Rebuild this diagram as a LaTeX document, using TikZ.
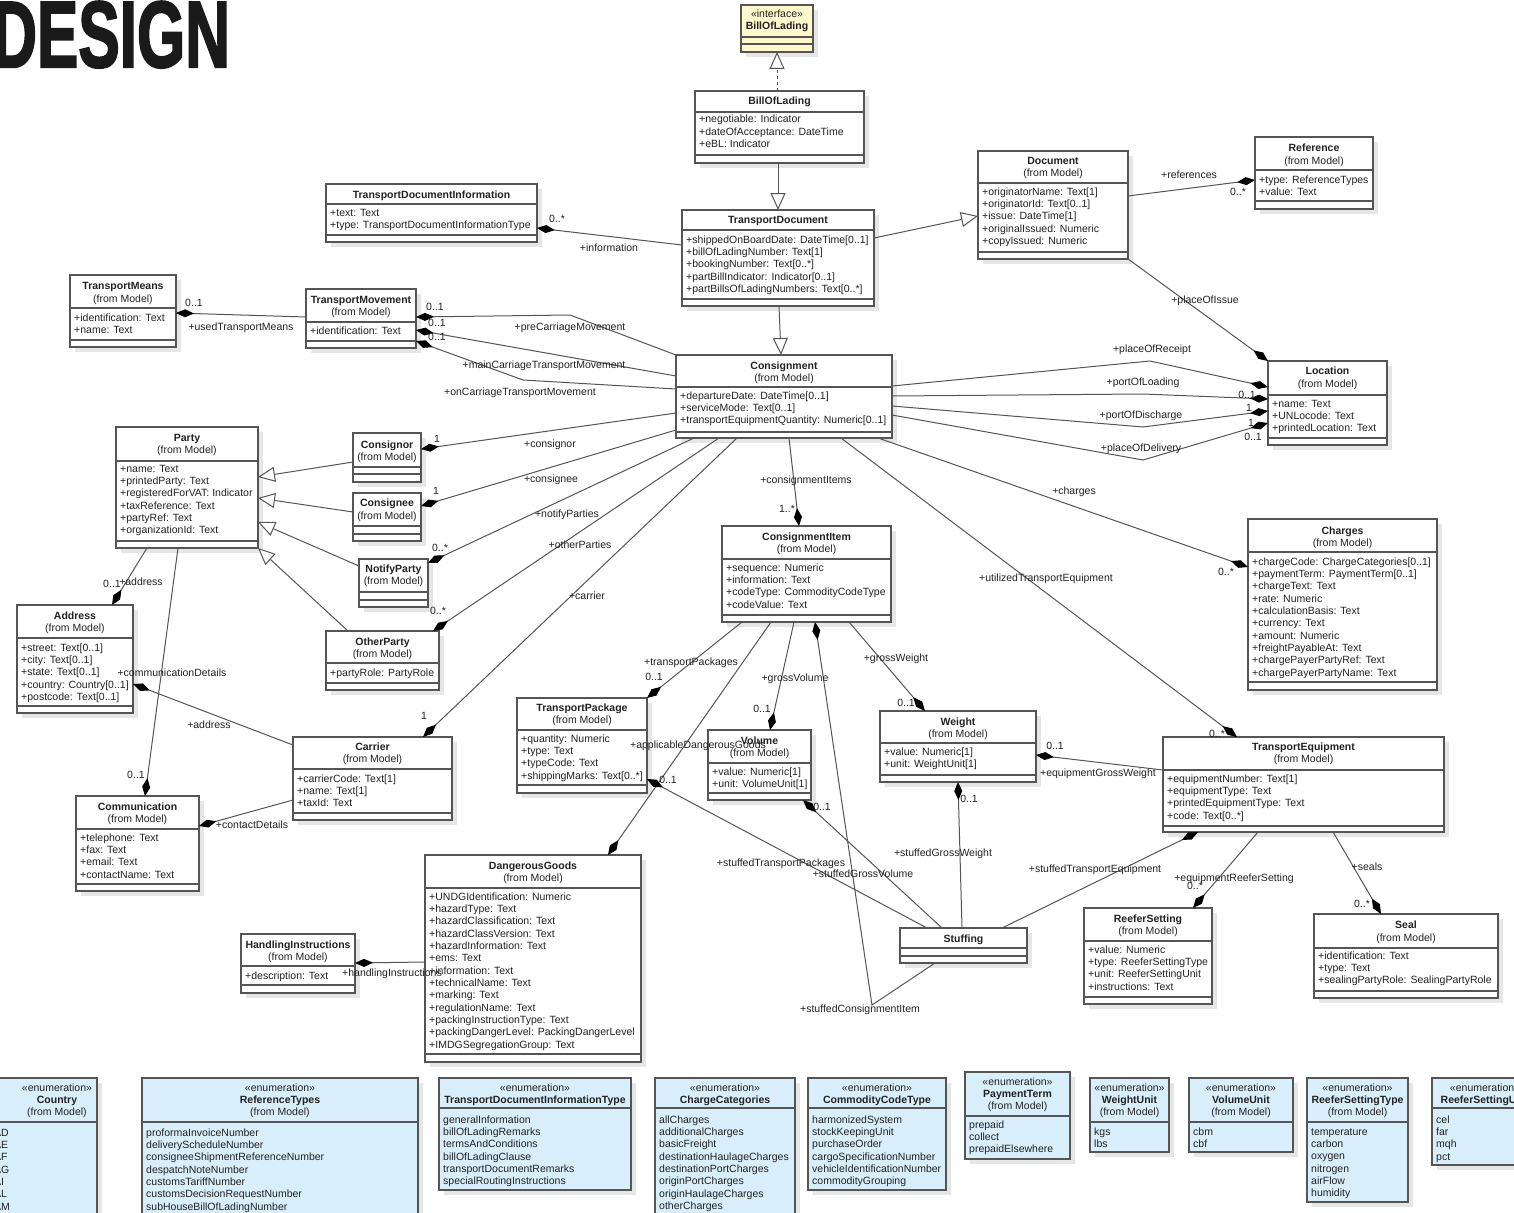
\documentclass[tikz,border=0pt]{standalone}
\usepackage{fontspec}
\setmainfont{Liberation Sans}
\newfontfamily\designfont[FakeBold=2.5]{Liberation Sans Bold}
\usetikzlibrary{arrows.meta,fit}
\definecolor{lc}{HTML}{555555}
\definecolor{tc}{HTML}{222222}
\definecolor{ifill}{HTML}{FFF8CC}
\definecolor{efill}{HTML}{D8EEFA}
\definecolor{shc}{HTML}{E6E6E6}
\definecolor{designc}{HTML}{1A1A1A}
\newcounter{nn}
\tikzset{
 classbox/.style={draw=lc, line width=1.2pt, fill=white, inner sep=0pt, outer sep=0pt},
 sepline/.style={draw=lc, line width=1.1pt},
 txt/.style={inner sep=0pt, text=tc, font=\fontsize{10.5}{12}\selectfont},
 attr/.style={txt, anchor=base west},
 ttl/.style={txt, anchor=base, font=\fontsize{10.5}{12}\selectfont\bfseries},
 sub/.style={txt, anchor=base},
 lab/.style={txt, anchor=base},
 assoc/.style={draw=lc, line width=1pt},
 comp/.style={assoc, -{Diamond[length=18pt,width=8pt,color=black]}},
 gen/.style={assoc, -{Triangle[open,length=17pt,width=15pt,fill=white]}},
 realz/.style={gen, dashed}
}
\newcommand\ubox[6]{%
  \fill[shc] (#2+5,#3+5) rectangle (#4+5,#5+5);
  \node[classbox,#6,fit={(#2,#3) (#4,#5)}] (#1) {};}
\newcommand\hsep[2]{\draw[sepline] (#1.west |- 0,#2) -- (#1.east |- 0,#2);}
\newcommand\ct[4]{\stepcounter{nn}\node[#1] (t\arabic{nn}) at (#2.center |- 0,#3+4) {#4};}
\newcommand\al[3]{\foreach \itm [count=\i from 0] in {#3} {\stepcounter{nn}\node[attr,xshift=4pt] (t\arabic{nn}) at (#1.west |- 0,#2+4+\i*12.35) {\itm};}}
\newcommand\lb[3]{\stepcounter{nn}\node[lab] (t\arabic{nn}) at (#1,#2+4) {#3};}
\newcommand\enumhead[3]{\ct{sub}{#1}{#2}{«enumeration»}\ct{ttl}{#1}{#2+12}{#3}}
\begin{document}
\begin{tikzpicture}[x=1pt,y=-1pt]
\useasboundingbox (0,0) rectangle (1514,1212);
\fill[white] (0,0) rectangle (1514,1212);
\clip (0,0) rectangle (1514,1212);

\node[anchor=base west, inner sep=0pt, text=designc, font=\fontsize{94}{94}\selectfont\designfont] (title) at (-8,67) {\scalebox{0.66}[1]{DESIGN}};

% ---------- classes ----------
\ubox{ifc}{741}{5}{813}{52}{fill=ifill}
\ct{sub}{ifc}{14}{«interface»}
\ct{ttl}{ifc}{26}{BillOfLading}
\hsep{ifc}{37}\hsep{ifc}{44}

\ubox{bol}{695}{91}{864}{163}{}
\ct{ttl}{bol}{101}{BillOfLading}
\hsep{bol}{112}
\al{bol}{119}{+negotiable: Indicator, +dateOfAcceptance: DateTime, +eBL: Indicator}
\hsep{bol}{155}

\ubox{td}{682}{210}{874}{306}{}
\ct{ttl}{td}{219}{TransportDocument}
\hsep{td}{230}
\al{td}{239}{+shippedOnBoardDate: DateTime[0..1], +billOfLadingNumber: Text[1], +bookingNumber: Text[0..*], +partBillIndicator: Indicator[0..1], +partBillsOfLadingNumbers: Text[0..*]}
\hsep{td}{299}

\ubox{doc}{978}{151}{1128}{259}{}
\ct{ttl}{doc}{160}{Document}
\ct{sub}{doc}{172}{(from Model)}
\hsep{doc}{183}
\al{doc}{191}{+originatorName: Text[1], +originatorId: Text[0..1], +issue: DateTime[1], +originalIssued: Numeric, +copyIssued: Numeric}
\hsep{doc}{252}

\ubox{ref}{1255}{137}{1373}{209}{}
\ct{ttl}{ref}{147}{Reference}
\ct{sub}{ref}{160}{(from Model)}
\hsep{ref}{170}
\al{ref}{179}{+type: ReferenceTypes, +value: Text}
\hsep{ref}{201}

\ubox{loc}{1268}{361}{1387}{445}{}
\ct{ttl}{loc}{370}{Location}
\ct{sub}{loc}{383}{(from Model)}
\hsep{loc}{395}
\al{loc}{403}{+name: Text, +UNLocode: Text, +printedLocation: Text}
\hsep{loc}{438}

\ubox{tdi}{326}{184}{537}{242}{}
\ct{ttl}{tdi}{194}{TransportDocumentInformation}
\hsep{tdi}{204}
\al{tdi}{212}{+text: Text, +type: TransportDocumentInformationType}
\hsep{tdi}{235}

\ubox{tmeans}{70}{275}{176}{347}{}
\ct{ttl}{tmeans}{285}{TransportMeans}
\ct{sub}{tmeans}{298}{(from Model)}
\hsep{tmeans}{308}
\al{tmeans}{317}{+identification: Text, +name: Text}
\hsep{tmeans}{340}

\ubox{tmov}{306}{289}{416}{348}{}
\ct{ttl}{tmov}{299}{TransportMovement}
\ct{sub}{tmov}{311}{(from Model)}
\hsep{tmov}{322}
\al{tmov}{330}{+identification: Text}
\hsep{tmov}{341}

\ubox{cons}{676}{355}{892}{438}{}
\ct{ttl}{cons}{365}{Consignment}
\ct{sub}{cons}{377}{(from Model)}
\hsep{cons}{387}
\al{cons}{395}{+departureDate: DateTime[0..1], +serviceMode: Text[0..1], +transportEquipmentQuantity: Numeric[0..1]}
\hsep{cons}{432}

\ubox{party}{116}{427}{258}{548}{}
\ct{ttl}{party}{437}{Party}
\ct{sub}{party}{449}{(from Model)}
\hsep{party}{461}
\al{party}{468}{+name: Text, +printedParty: Text, +registeredForVAT: Indicator, +taxReference: Text, +partyRef: Text, +organizationId: Text}
\hsep{party}{541}

\ubox{cnor}{353}{433}{421}{482}{}
\ct{ttl}{cnor}{444}{Consignor}
\ct{sub}{cnor}{456}{(from Model)}
\hsep{cnor}{467}\hsep{cnor}{474}

\ubox{cnee}{353}{493}{421}{541}{}
\ct{ttl}{cnee}{502}{Consignee}
\ct{sub}{cnee}{515}{(from Model)}
\hsep{cnee}{526}\hsep{cnee}{534}

\ubox{notify}{359}{559}{428}{607}{}
\ct{ttl}{notify}{568}{NotifyParty}
\ct{sub}{notify}{580}{(from Model)}
\hsep{notify}{592}\hsep{notify}{600}

\ubox{other}{326}{631}{439}{690}{}
\ct{ttl}{other}{641}{OtherParty}
\ct{sub}{other}{653}{(from Model)}
\hsep{other}{663}
\al{other}{672}{+partyRole: PartyRole}
\hsep{other}{683}

\ubox{addr}{17}{605}{133}{713}{}
\ct{ttl}{addr}{615}{Address}
\ct{sub}{addr}{627}{(from Model)}
\hsep{addr}{638}
\al{addr}{647}{+street: Text[0..1], +city: Text[0..1], +state: Text[0..1], +country: Country[0..1], +postcode: Text[0..1]}
\hsep{addr}{706}

\ubox{comm}{76}{796}{199}{891}{}
\ct{ttl}{comm}{806}{Communication}
\ct{sub}{comm}{818}{(from Model)}
\hsep{comm}{829}
\al{comm}{837}{+telephone: Text, +fax: Text, +email: Text, +contactName: Text}
\hsep{comm}{884}

\ubox{carrier}{293}{737}{452}{820}{}
\ct{ttl}{carrier}{746}{Carrier}
\ct{sub}{carrier}{758}{(from Model)}
\hsep{carrier}{769}
\al{carrier}{778}{+carrierCode: Text[1], +name: Text[1], +taxId: Text}
\hsep{carrier}{813}

\ubox{hi}{241}{934}{355}{993}{}
\ct{ttl}{hi}{944}{HandlingInstructions}
\ct{sub}{hi}{956}{(from Model)}
\hsep{hi}{966}
\al{hi}{975}{+description: Text}
\hsep{hi}{985}

\ubox{dg}{425}{855}{641}{1062}{}
\ct{ttl}{dg}{865}{DangerousGoods}
\ct{sub}{dg}{877}{(from Model)}
\hsep{dg}{888}
\al{dg}{896}{+UNDGIdentification: Numeric, +hazardType: Text, +hazardClassification: Text, +hazardClassVersion: Text, +hazardInformation: Text, +ems: Text, +information: Text, +technicalName: Text, +marking: Text, +regulationName: Text, +packingInstructionType: Text, +packingDangerLevel: PackingDangerLevel, +IMDGSegregationGroup: Text}
\hsep{dg}{1054}

\ubox{ci}{722}{526}{891}{622}{}
\ct{ttl}{ci}{536}{ConsignmentItem}
\ct{sub}{ci}{548}{(from Model)}
\hsep{ci}{559}
\al{ci}{567}{+sequence: Numeric, +information: Text, +codeType: CommodityCodeType, +codeValue: Text}
\hsep{ci}{615}

\ubox{tp}{517}{698}{647}{793}{}
\ct{ttl}{tp}{707}{TransportPackage}
\ct{sub}{tp}{719}{(from Model)}
\hsep{tp}{730}
\al{tp}{738}{+quantity: Numeric, +type: Text, +typeCode: Text, +shippingMarks: Text[0..*]}
\hsep{tp}{785}

\ubox{vol}{708}{730}{811}{800}{}
\ct{ttl}{vol}{740}{Volume}
\ct{sub}{vol}{752}{(from Model)}
\hsep{vol}{763}
\al{vol}{771}{+value: Numeric[1], +unit: VolumeUnit[1]}
\hsep{vol}{793}

\ubox{wt}{880}{711}{1036}{782}{}
\ct{ttl}{wt}{721}{Weight}
\ct{sub}{wt}{733}{(from Model)}
\hsep{wt}{743}
\al{wt}{751}{+value: Numeric[1], +unit: WeightUnit[1]}
\hsep{wt}{775}

\ubox{stuff}{900}{928}{1027}{963}{}
\ct{ttl}{stuff}{938}{Stuffing}
\hsep{stuff}{948}\hsep{stuff}{956}

\ubox{te}{1163}{737}{1444}{832}{}
\ct{ttl}{te}{746}{TransportEquipment}
\ct{sub}{te}{758}{(from Model)}
\hsep{te}{770}
\al{te}{778}{+equipmentNumber: Text[1], +equipmentType: Text, +printedEquipmentType: Text, +code: Text[0..*]}
\hsep{te}{826}

\ubox{charges}{1248}{519}{1437}{690}{}
\ct{ttl}{charges}{530}{Charges}
\ct{sub}{charges}{542}{(from Model)}
\hsep{charges}{552}
\al{charges}{561}{+chargeCode: ChargeCategories[0..1], +paymentTerm: PaymentTerm[0..1], +chargeText: Text, +rate: Numeric, +calculationBasis: Text, +currency: Text, +amount: Numeric, +freightPayableAt: Text, +chargePayerPartyRef: Text, +chargePayerPartyName: Text}
\hsep{charges}{682}

\ubox{rs}{1084}{908}{1212}{1004}{}
\ct{ttl}{rs}{918}{ReeferSetting}
\ct{sub}{rs}{930}{(from Model)}
\hsep{rs}{941}
\al{rs}{949}{+value: Numeric, +type: ReeferSettingType, +unit: ReeferSettingUnit, +instructions: Text}
\hsep{rs}{997}

\ubox{seal}{1314}{914}{1498}{998}{}
\ct{ttl}{seal}{924}{Seal}
\ct{sub}{seal}{937}{(from Model)}
\hsep{seal}{948}
\al{seal}{955}{+identification: Text, +type: Text, +sealingPartyRole: SealingPartyRole}
\hsep{seal}{991}

% ---------- enumerations ----------
\ubox{country}{-10}{1078}{97}{1230}{fill=efill}
\coordinate (countryc) at (57,1100);
\enumhead{countryc}{1087}{Country}
\ct{sub}{countryc}{1111}{(from Model)}
\hsep{country}{1122}
\al{country}{1132}{AD, AE, AF, AG, AI, AL, AM}

\ubox{reftypes}{142}{1078}{418}{1230}{fill=efill}
\enumhead{reftypes}{1087}{ReferenceTypes}
\ct{sub}{reftypes}{1111}{(from Model)}
\hsep{reftypes}{1122}
\al{reftypes}{1132}{proformaInvoiceNumber, deliveryScheduleNumber, consigneeShipmentReferenceNumber, despatchNoteNumber, customsTariffNumber, customsDecisionRequestNumber, subHouseBillOfLadingNumber}

\ubox{tdit}{439}{1078}{631}{1190}{fill=efill}
\enumhead{tdit}{1087}{TransportDocumentInformationType}
\hsep{tdit}{1108}
\al{tdit}{1119}{generalInformation, billOfLadingRemarks, termsAndConditions, billOfLadingClause, transportDocumentRemarks, specialRoutingInstructions}

\ubox{chcat}{655}{1078}{795}{1230}{fill=efill}
\enumhead{chcat}{1087}{ChargeCategories}
\hsep{chcat}{1108}
\al{chcat}{1119}{allCharges, additionalCharges, basicFreight, destinationHaulageCharges, destinationPortCharges, originPortCharges, originHaulageCharges, otherCharges}

\ubox{cct}{808}{1078}{946}{1190}{fill=efill}
\enumhead{cct}{1087}{CommodityCodeType}
\hsep{cct}{1108}
\al{cct}{1119}{harmonizedSystem, stockKeepingUnit, purchaseOrder, cargoSpecificationNumber, vehicleIdentificationNumber, commodityGrouping}

\ubox{pterm}{965}{1072}{1070}{1159}{fill=efill}
\enumhead{pterm}{1081}{PaymentTerm}
\ct{sub}{pterm}{1105}{(from Model)}
\hsep{pterm}{1116}
\al{pterm}{1124}{prepaid, collect, prepaidElsewhere}

\ubox{wunit}{1090}{1078}{1169}{1152}{fill=efill}
\enumhead{wunit}{1087}{WeightUnit}
\ct{sub}{wunit}{1111}{(from Model)}
\hsep{wunit}{1122}
\al{wunit}{1131}{kgs, lbs}

\ubox{vunit}{1189}{1078}{1293}{1152}{fill=efill}
\enumhead{vunit}{1087}{VolumeUnit}
\ct{sub}{vunit}{1111}{(from Model)}
\hsep{vunit}{1122}
\al{vunit}{1131}{cbm, cbf}

\ubox{rstype}{1307}{1078}{1408}{1202}{fill=efill}
\enumhead{rstype}{1087}{ReeferSettingType}
\ct{sub}{rstype}{1111}{(from Model)}
\hsep{rstype}{1122}
\al{rstype}{1131}{temperature, carbon, oxygen, nitrogen, airFlow, humidity}

\ubox{rsunit}{1432}{1078}{1538}{1165}{fill=efill}
\enumhead{rsunit}{1087}{ReeferSettingUnit}
\hsep{rsunit}{1108}
\al{rsunit}{1119}{cel, far, mqh, pct}

% ---------- connectors ----------
\draw[realz] (bol.north -| ifc.south) -- (ifc.south);
\draw[gen] (bol.south -| 778,0) -- (td.north -| 778,0);
\draw[gen] (td.south -| 779,0) -- (cons.north -| 781,0);
\draw[gen] (td.east |- 0,238) -- (doc.west |- 0,216);
\draw[comp] (td.west |- 0,245) -- (tdi.east |- 0,228);
\draw[comp] (doc.east |- 0,196) -- (ref.west |- 0,180);
\draw[comp] (doc.south east) -- (loc.north west);

\draw[comp] (cons.east |- 0,386) -- (1150,361) -- (loc.west |- 0,387);
\draw[comp] (cons.east |- 0,396) -- (1143,394) -- (loc.west |- 0,399);
\draw[comp] (cons.east |- 0,406) -- (1143,427) -- (loc.west |- 0,411);
\draw[comp] (cons.east |- 0,415) -- (1143,460) -- (loc.west |- 0,423);

\draw[comp] (tmov.west |- 0,317) -- (tmeans.east |- 0,313);
\draw[comp] (cons.north west) -- (570,315) -- (tmov.east |- 0,317);
\draw[comp] (cons.west |- 0,376) -- (tmov.east |- 0,330);
\draw[comp] (cons.west |- 0,389) -- (523,380) -- (tmov.east |- 0,341);

\draw[gen] (cnor.west |- 0,462) -- (party.east |- 0,477);
\draw[gen] (cnee.west |- 0,512) -- (party.east |- 0,498);
\draw[gen] (notify.west |- 0,566) -- (party.east |- 0,522);
\draw[gen] (other.north -| 348,0) -- (party.south east);

\draw[comp] (cons.west |- 0,413) -- (cnor.east |- 0,449);
\draw[comp] (cons.west |- 0,430) -- (cnee.east |- 0,506);
\draw[comp] (cons.south -| 694,0) -- (notify.east |- 0,563);
\draw[comp] (cons.south -| 719,0) -- (other.north -| 433,0);
\draw[comp] (cons.south -| 737,0) -- (carrier.north -| 423,0);

\draw[comp] (party.south -| 147,0) -- (addr.north -| 112,0);
\draw[comp] (party.south -| 178,0) -- (comm.north -| 145,0);
\draw[comp] (carrier.west |- 0,745) -- (addr.east |- 0,684);
\draw[comp] (carrier.west |- 0,800) -- (comm.east |- 0,826);
\draw[comp] (dg.west |- 0,962) -- (hi.east |- 0,963);

\draw[comp] (cons.south -| 789,0) -- (ci.north -| 799,0);
\draw[comp] (ci.south -| 742,0) -- (tp.north east);
\draw[comp] (ci.south -| 771,0) -- (dg.north -| 608,0);
\draw[comp] (ci.south -| 794,0) -- (vol.north -| 770,0);
\draw[comp] (ci.south -| 849,0) -- (wt.north -| 925,0);

\draw[comp] (stuff.north -| 927,0) -- (tp.east |- 0,779);
\draw[comp] (stuff.north -| 942,0) -- (vol.south -| 803,0);
\draw[comp] (stuff.north -| 962,0) -- (wt.south -| 958,0);
\draw[comp] (stuff.north -| 1002,0) -- (te.south -| 1198,0);
\draw[comp] (stuff.south -| 935,0) -- (872,1005) -- (ci.south -| 815,0);

\draw[comp] (cons.south -| 841,0) -- (te.north -| 1237,0);
\draw[comp] (cons.south -| 878,0) -- (charges.west |- 0,567);
\draw[comp] (te.west |- 0,770) -- (wt.east |- 0,755);
\draw[comp] (te.south -| 1258,0) -- (rs.north -| 1193,0);
\draw[comp] (te.south -| 1333,0) -- (seal.north -| 1381,0);

% ---------- labels ----------
\lb{609}{247}{+information}
\lb{557}{218}{0..*}
\lb{194}{302}{0..1}
\lb{241}{326}{+usedTransportMeans}
\lb{435}{306}{0..1}
\lb{437}{322}{0..1}
\lb{437}{336}{0..1}
\lb{570}{326}{+preCarriageMovement}
\lb{544}{364}{+mainCarriageTransportMovement}
\lb{520}{391}{+onCarriageTransportMovement}
\lb{1189}{174}{+references}
\lb{1238}{191}{0..*}
\lb{1205}{299}{+placeOfIssue}
\lb{1152}{348}{+placeOfReceipt}
\lb{1143}{381}{+portOfLoading}
\lb{1141}{414}{+portOfDischarge}
\lb{1141}{447}{+placeOfDelivery}
\lb{1247}{394}{0..1}
\lb{1249}{407}{1}
\lb{1251}{422}{1}
\lb{1253}{436}{0..1}
\lb{550}{443}{+consignor}
\lb{437}{438}{1}
\lb{551}{478}{+consignee}
\lb{436}{490}{1}
\lb{567}{513}{+notifyParties}
\lb{440}{547}{0..*}
\lb{580}{544}{+otherParties}
\lb{438}{610}{0..*}
\lb{587}{595}{+carrier}
\lb{424}{715}{1}
\lb{806}{479}{+consignmentItems}
\lb{787}{508}{1..*}
\lb{1074}{490}{+charges}
\lb{1226}{571}{0..*}
\lb{1046}{577}{+utilizedTransportEquipment}
\lb{1217}{733}{0..*}
\lb{112}{583}{0..1}
\lb{141}{581}{+address}
\lb{172}{672}{+communicationDetails}
\lb{136}{774}{0..1}
\lb{209}{724}{+address}
\lb{252}{824}{+contactDetails}
\lb{392}{972}{+handlingInstructions}
\lb{691}{661}{+transportPackages}
\lb{654}{676}{0..1}
\lb{795}{677}{+grossVolume}
\lb{762}{708}{0..1}
\lb{896}{657}{+grossWeight}
\lb{906}{702}{0..1}
\lb{698}{744}{+applicableDangerousGoods}
\lb{781}{862}{+stuffedTransportPackages}
\lb{668}{779}{0..1}
\lb{863}{873}{+stuffedGrossVolume}
\lb{822}{806}{0..1}
\lb{943}{852}{+stuffedGrossWeight}
\lb{969}{798}{0..1}
\lb{1095}{868}{+stuffedTransportEquipment}
\lb{860}{1008}{+stuffedConsignmentItem}
\lb{1055}{745}{0..1}
\lb{1098}{772}{+equipmentGrossWeight}
\lb{1234}{877}{+equipmentReeferSetting}
\lb{1195}{885}{0..*}
\lb{1367}{866}{+seals}
\lb{1362}{903}{0..*}
\end{tikzpicture}
\end{document}
